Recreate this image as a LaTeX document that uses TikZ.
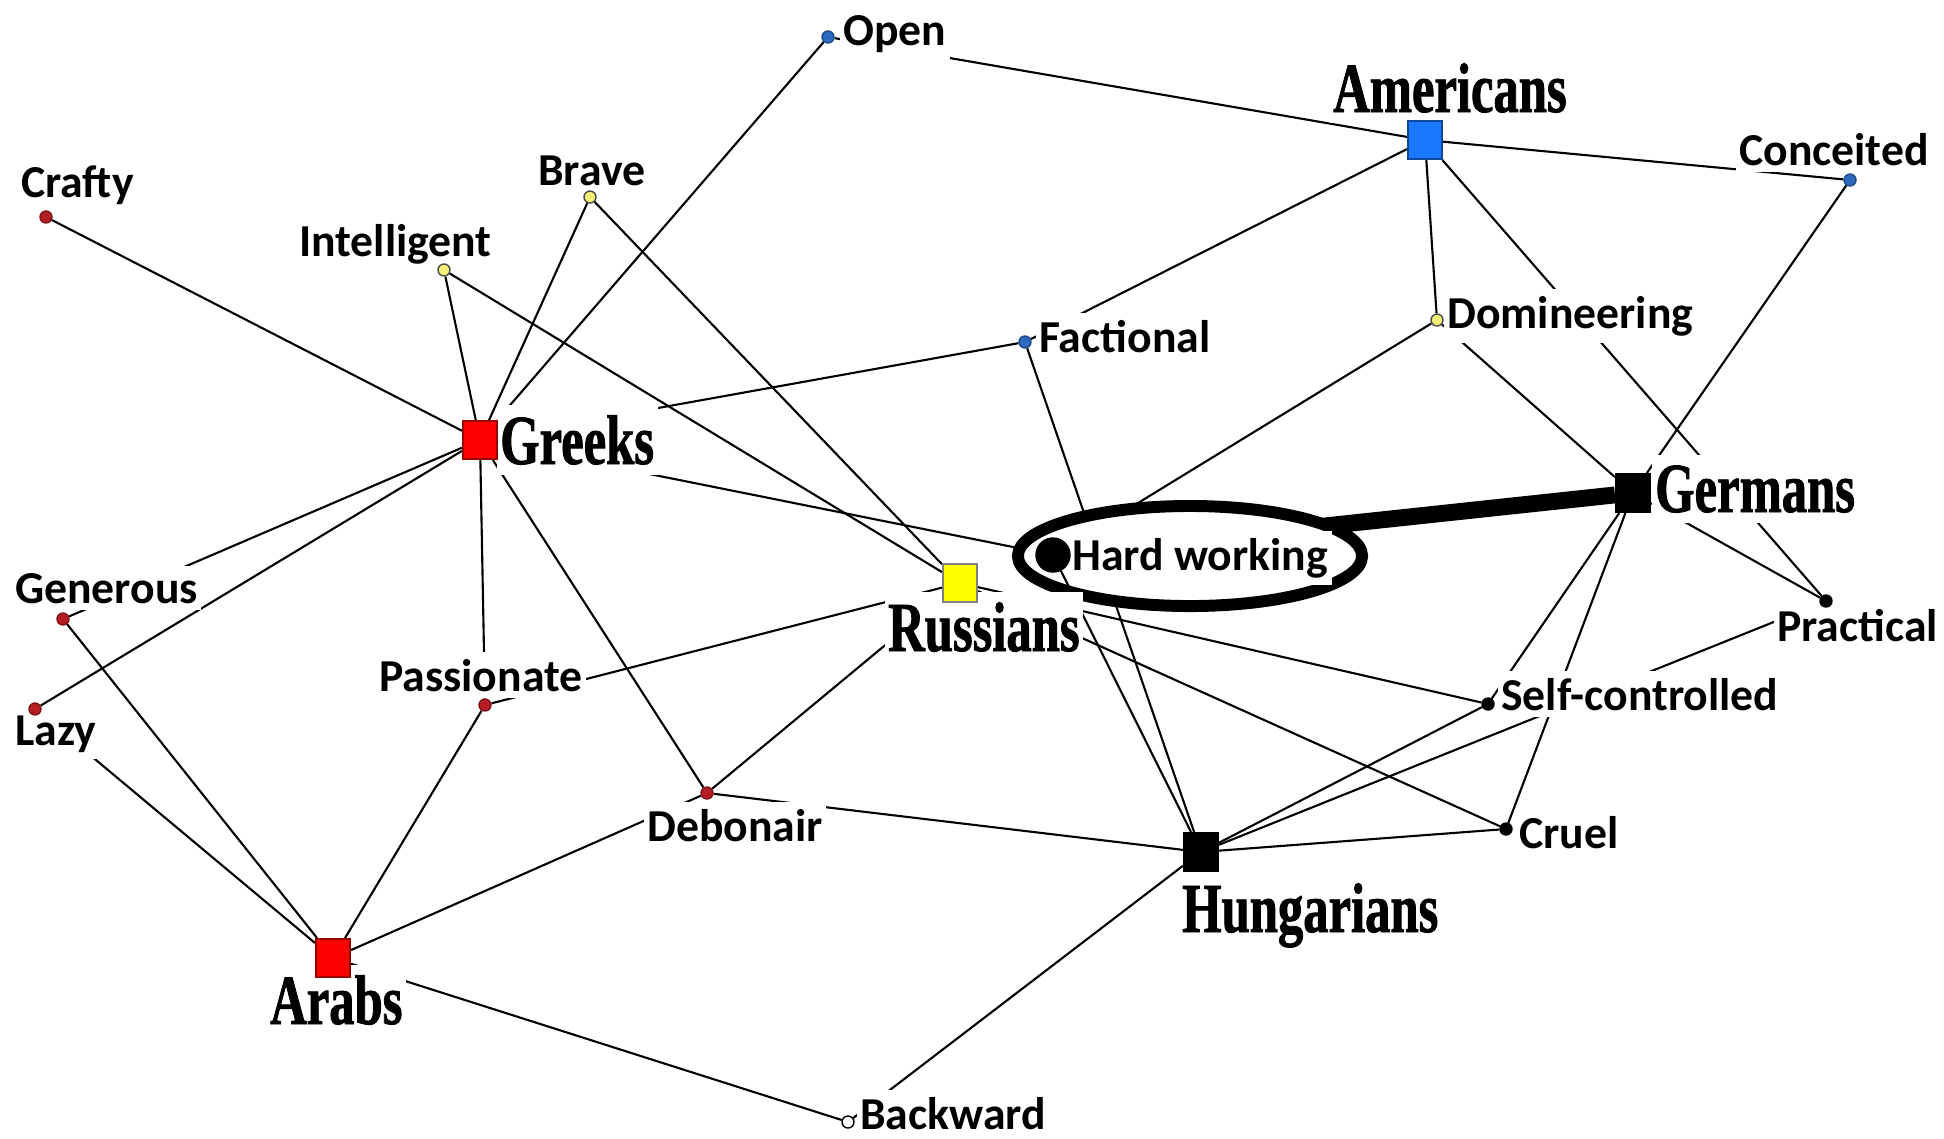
\documentclass[tikz,border=0pt]{standalone}
\usepackage{fontspec}
\usetikzlibrary{shapes.geometric}

\newfontfamily\termfont{Carlito}
\newfontfamily\nationfont[FakeStretch=0.72,FakeBold=1.2]{Liberation Serif}

\definecolor{dotred}{RGB}{180,30,35}
\definecolor{dotblue}{RGB}{45,105,190}
\definecolor{dotyellow}{RGB}{245,240,120}
\definecolor{boxred}{RGB}{255,0,0}
\definecolor{boxblue}{RGB}{25,120,255}
\definecolor{boxyellow}{RGB}{255,255,0}

\pgfdeclarelayer{edges}
\pgfsetlayers{edges,main}

\begin{document}
\begin{tikzpicture}[x=0.01cm, y=-0.01cm,
  term/.style={circle,draw,minimum size=1.2mm,inner sep=0pt,line width=0.4pt},
  nation/.style={rectangle,draw,minimum width=3.4mm,minimum height=3.8mm,inner sep=0pt,line width=0.6pt},
  termlabel/.style={anchor=base west,fill=white,inner xsep=1pt,inner ysep=2pt,
    font=\termfont\bfseries\fontsize{13}{15}\selectfont},
  nationlabel/.style={anchor=base west,fill=white,inner xsep=1pt,inner ysep=3pt,
    font=\nationfont\bfseries\fontsize{20}{22}\selectfont},
  edge/.style={line width=0.6pt},
  heavy/.style={line width=4.8pt},
  ring/.style={ellipse,draw,fill=white,line width=3.4pt,minimum width=3.44cm,minimum height=1cm}
]
\useasboundingbox (0,0) rectangle (1944,1138);

% labels
\node[termlabel] (open-l) at (839,45) {Open};
\node[termlabel] (conceited-l) at (1735,165) {Conceited};
\node[termlabel] (factional-l) at (1035,352) {Factional};
\node[termlabel] (crafty-l) at (17,197) {Crafty};
\node[termlabel] (generous-l) at (11,603) {Generous};
\node[termlabel] (lazy-l) at (11,745) {Lazy};
\node[termlabel] (passionate-l) at (375,691) {Passionate};
\node[termlabel] (debonair-l) at (643,841) {Debonair};
\node[termlabel] (brave-l) at (534,185) {Brave};
\node[termlabel] (intelligent-l) at (295,256) {Intelligent};
\node[termlabel] (domineering-l) at (1443,328) {Domineering};
\node[termlabel] (selfcontrolled-l) at (1497,710) {Self-controlled};
\node[termlabel] (practical-l) at (1773,641) {Practical};
\node[termlabel] (cruel-l) at (1515,848) {Cruel};
\node[termlabel] (backward-l) at (856,1129) {Backward};
\node[termlabel] (hardworking-l) at (1068,570) {Hard working};

\node[nationlabel] (americans-l) at (1329,112) {Americans};
\node[nationlabel] (greeks-l) at (496,464) {Greeks};
\node[nationlabel] (russians-l) at (884,651) {Russians};
\node[nationlabel] (germans-l) at (1651,512) {Germans};
\node[nationlabel] (hungarians-l) at (1178,932) {Hungarians};
\node[nationlabel] (arabs-l) at (266,1024) {Arabs};

% traits
\node[term,fill=dotblue,draw=dotblue!70!black] (open) at (828,37) {};
\node[term,fill=dotblue,draw=dotblue!70!black] (conceited) at (1850,180) {};
\node[term,fill=dotblue,draw=dotblue!70!black] (factional) at (1025,342) {};
\node[term,fill=dotred,draw=dotred!70!black] (crafty) at (46,217) {};
\node[term,fill=dotred,draw=dotred!70!black] (generous) at (63,619) {};
\node[term,fill=dotred,draw=dotred!70!black] (lazy) at (35,709) {};
\node[term,fill=dotred,draw=dotred!70!black] (passionate) at (485,705) {};
\node[term,fill=dotred,draw=dotred!70!black] (debonair) at (707,793) {};
\node[term,fill=dotyellow,draw=black!70] (brave) at (590,197) {};
\node[term,fill=dotyellow,draw=black!70] (intelligent) at (444,270) {};
\node[term,fill=dotyellow,draw=black!70] (domineering) at (1437,320) {};
\node[term,fill=black] (selfcontrolled) at (1488,704) {};
\node[term,fill=black] (practical) at (1826,601) {};
\node[term,fill=black] (cruel) at (1506,829) {};
\node[term,fill=white] (backward) at (848,1122) {};
\node[term,fill=black,minimum size=3.4mm] (hardworking) at (1053,555) {};

% nations
\node[nation,fill=boxblue,draw=boxblue!60!black] (americans) at (1425,140) {};
\node[nation,fill=boxred,draw=boxred!60!black] (greeks) at (480,440) {};
\node[nation,fill=boxyellow,draw=black!50] (russians) at (960,583) {};
\node[nation,fill=black] (germans) at (1633,493) {};
\node[nation,fill=black] (hungarians) at (1201,852) {};
\node[nation,fill=boxred,draw=boxred!60!black] (arabs) at (333,958) {};

\begin{pgfonlayer}{edges}
\draw[edge] (open)--(americans);
\draw[edge] (open)--(greeks);
\draw[edge] (americans)--(conceited);
\draw[edge] (americans)--(factional);
\draw[edge] (americans)--(domineering);
\draw[edge] (americans)--(practical);
\draw[edge] (conceited)--(germans);
\draw[edge] (domineering)--(germans);
\draw[edge] (domineering)--(hardworking);
\draw[edge] (factional)--(hungarians);
\draw[edge] (greeks)--(factional);
\draw[edge] (greeks)--(crafty);
\draw[edge] (greeks)--(intelligent);
\draw[edge] (greeks)--(brave);
\draw[edge] (greeks)--(generous);
\draw[edge] (greeks)--(lazy);
\draw[edge] (greeks)--(passionate);
\draw[edge] (greeks)--(debonair);
\draw[edge] (greeks)--(hardworking);
\draw[edge] (intelligent)--(russians);
\draw[edge] (brave)--(russians);
\draw[edge] (russians)--(passionate);
\draw[edge] (russians)--(debonair);
\draw[edge] (russians)--(selfcontrolled);
\draw[edge] (russians)--(cruel);
\draw[edge] (germans)--(selfcontrolled);
\draw[edge] (germans)--(cruel);
\draw[edge] (germans)--(practical);
\draw[edge] (hungarians)--(selfcontrolled);
\draw[edge] (hungarians)--(practical);
\draw[edge] (hungarians)--(cruel);
\draw[edge] (hungarians)--(debonair);
\draw[edge] (hungarians)--(backward);
\draw[edge] (arabs)--(lazy);
\draw[edge] (arabs)--(generous);
\draw[edge] (arabs)--(passionate);
\draw[edge] (arabs)--(debonair);
\draw[edge] (arabs)--(backward);
\draw[heavy] (hardworking)--(germans);
\node[ring] (hwring) at (1190,556) {};
\draw[edge] (hardworking)--(hungarians);
\end{pgfonlayer}
\end{tikzpicture}
\end{document}
